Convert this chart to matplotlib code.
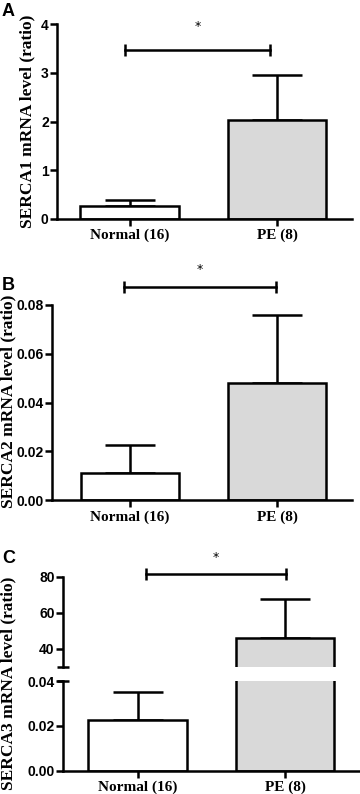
import matplotlib
matplotlib.use("Agg")
import matplotlib.pyplot as plt

groups = ["Normal (16)", "PE (8)"]
serca1_mean = [0.27, 2.03]
serca1_sem = [0.11, 0.92]
serca2_mean = [0.0113, 0.0482]
serca2_sem = [0.0112, 0.0277]
serca3_mean = [0.0225, 45.9]
serca3_sem = [0.0126, 21.9]

bar_colors = ["white", "#d9d9d9"]
sans = "Liberation Sans"
serif = "Liberation Serif"
lw = 1.8


def draw_bars(ax, mean, sem):
    x = [0, 1]
    ax.bar(x, mean, width=0.67, color=bar_colors, edgecolor="black", linewidth=lw, zorder=2)
    ax.errorbar(x, mean, yerr=[[0, 0], sem], fmt="none", ecolor="black",
                elinewidth=lw, capsize=18, capthick=lw, zorder=1)


def style_ax(ax, xlim):
    ax.set_xlim(*xlim)
    for s in ["top", "right"]:
        ax.spines[s].set_visible(False)
    ax.spines["left"].set_linewidth(lw)
    ax.spines["bottom"].set_linewidth(lw)
    ax.tick_params(axis="y", width=lw, length=5, pad=1, labelsize=10)
    ax.tick_params(axis="x", width=lw, length=5, pad=2)
    for t in ax.get_yticklabels():
        t.set_fontfamily(sans)
        t.set_fontweight("bold")
    ax.set_xticks([0, 1])
    ax.set_xticklabels(groups, fontfamily=serif, fontweight="bold", fontsize=11)


def sig_bar(ax, x1, x2, y, ystar):
    ax.plot([x1, x2], [y, y], color="black", lw=lw, clip_on=False)
    ax.plot([x1, x2], [y, y], ls="none", marker="|", ms=9, mew=lw, color="black", clip_on=False)
    ax.text((x1 + x2) / 2, ystar, "*", ha="center", va="center", fontsize=9, clip_on=False)


def ylabel(x, y, txt):
    fig.text(x, y, txt, fontfamily=serif, fontweight="bold", fontsize=12.5,
             rotation=90, ha="center", va="center")


fig = plt.figure(figsize=(3.6, 7.94), dpi=100)

# panel A
axA = fig.add_axes([0.1583, 0.7242, 0.8194, 0.2452])
draw_bars(axA, serca1_mean, serca1_sem)
axA.set_ylim(0, 4)
axA.set_yticks([0, 1, 2, 3, 4])
style_ax(axA, (-0.4935, 1.509))
ylabel(0.075, 0.8468, "SERCA1 mRNA level (ratio)")
sig_bar(axA, -0.03, 0.95, 3.48, 3.95)
fig.text(0.005, 0.985, "A", fontfamily=sans, fontweight="bold", fontsize=13, va="center")

# panel B
axB = fig.add_axes([0.1436, 0.3699, 0.8334, 0.2460])
draw_bars(axB, serca2_mean, serca2_sem)
axB.set_ylim(0, 0.08)
axB.set_yticks([0, 0.02, 0.04, 0.06, 0.08])
axB.set_yticklabels(["0.00", "0.02", "0.04", "0.06", "0.08"])
style_ax(axB, (-0.533, 1.508))
ylabel(0.022, 0.495, "SERCA2 mRNA level (ratio)")
sig_bar(axB, -0.04, 0.99, 0.0873, 0.0947)
fig.text(0.005, 0.641, "B", fontfamily=sans, fontweight="bold", fontsize=13, va="center")

# panel C, broken axis
axC = fig.add_axes([0.175, 0.0293, 0.825, 0.1130])
draw_bars(axC, serca3_mean, serca3_sem)
axC.set_ylim(0, 0.04)
axC.set_yticks([0, 0.02, 0.04])
axC.set_yticklabels(["0.00", "0.02", "0.04"])
style_ax(axC, (-0.505, 1.508))
axC.plot([-0.505], [0.04], marker="_", ms=9, mew=lw, color="black", clip_on=False)

axC2 = fig.add_axes([0.175, 0.1603, 0.825, 0.1134])
draw_bars(axC2, serca3_mean, serca3_sem)
axC2.set_ylim(30, 80)
axC2.set_yticks([40, 60, 80])
style_ax(axC2, (-0.505, 1.508))
axC2.spines["bottom"].set_visible(False)
axC2.set_xticks([])
axC2.plot([-0.505], [30], marker="_", ms=9, mew=lw, color="black", clip_on=False)
sig_bar(axC2, 0.055, 1.005, 81.3, 90.5)
fig.text(0.005, 0.297, "C", fontfamily=sans, fontweight="bold", fontsize=13, va="center")
ylabel(0.022, 0.139, "SERCA3 mRNA level (ratio)")

fig.savefig("out.png", dpi=100)
